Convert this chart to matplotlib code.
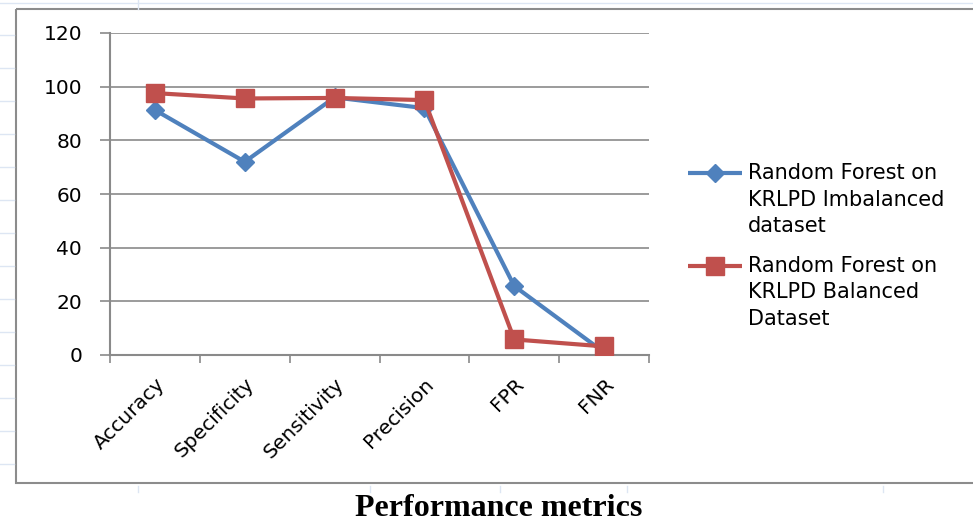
import matplotlib
matplotlib.use("Agg")
import matplotlib.pyplot as plt
from matplotlib.patches import Rectangle

# Data
metrics = ["Accuracy", "Specificity", "Sensitivity", "Precision", "FPR", "FNR"]
imbalanced = [91.3, 72.0, 96.0, 92.0, 25.7, 1.0]
balanced = [97.6, 95.6, 95.8, 95.0, 5.8, 3.2]
imbalanced_label = "Random Forest on\nKRLPD Imbalanced\ndataset"
balanced_label = "Random Forest on\nKRLPD Balanced\nDataset"
y_ticks = [0, 20, 40, 60, 80, 100, 120]

BLUE = "#4F81BD"
RED = "#C0504D"
GRID = "#8a8a8a"
FONT = "DejaVu Sans"

W, H = 973, 527
fig = plt.figure(figsize=(W / 100, H / 100), dpi=100)

# faint spreadsheet cell lines behind the chart, plus the chart frame (pixel coords)
bg = fig.add_axes([0, 0, 1, 1])
bg.set_xlim(0, W)
bg.set_ylim(H, 0)
bg.axis("off")
bg.plot([0, W], [3, 3], color="#dde6f3", lw=1)
for yy in range(35, 480, 33):
    bg.plot([0, 14], [yy, yy], color="#dde6f3", lw=1)
for xx in [138, 370, 500, 627, 883]:
    bg.plot([xx, xx], [486, 492], color="#dde6f3", lw=1)
bg.plot([138, 138], [0, 9], color="#dde6f3", lw=1)
bg.add_patch(Rectangle((16, 9), W, 474, fill=False, edgecolor="#8c8c8c", lw=1.5))
bg.plot([622], [258], marker="o", ms=1.5, color="blue")

ax = fig.add_axes([110 / W, 1 - 355 / H, (649 - 110) / W, (355 - 33) / H])
x = list(range(len(metrics)))
ax.plot(x, imbalanced, color=BLUE, lw=3, marker="D", ms=9, label=imbalanced_label, zorder=3)
ax.plot(x, balanced, color=RED, lw=3, marker="s", ms=13.5, label=balanced_label, zorder=4)

ax.set_xlim(-0.5, len(metrics) - 0.5)
ax.set_ylim(0, 120)
ax.set_yticks(y_ticks)
ax.set_yticklabels([str(v) for v in y_ticks], fontsize=14.5, family=FONT)
ax.set_xticks([i - 0.5 for i in range(len(metrics) + 1)])
ax.set_xticklabels([])
ax.set_xticks(x, minor=True)
ax.set_xticklabels(metrics, minor=True, rotation=45, ha="right", rotation_mode="anchor",
                   fontsize=14.5, family=FONT)
ax.tick_params(axis="x", which="minor", length=0, pad=14)
ax.tick_params(axis="x", which="major", length=6, color=GRID, width=1.2)
ax.tick_params(axis="y", length=7, color=GRID, width=1.2, pad=13)
ax.grid(axis="y", color=GRID, lw=1.2)
ax.set_axisbelow(True)
for s in ["top", "right"]:
    ax.spines[s].set_visible(False)
for s in ["left", "bottom"]:
    ax.spines[s].set_color(GRID)
    ax.spines[s].set_linewidth(1.5)

# legend drawn by hand so the key sits on the first text line, as in the original
for line, top in zip(ax.get_lines(), [173, 266]):
    bg.plot([688, 742], [top, top], color=line.get_color(), lw=3, solid_capstyle="butt")
    bg.plot([715], [top], color=line.get_color(), marker=line.get_marker(),
            ms=line.get_markersize())
    for k, txt in enumerate(line.get_label().split("\n")):
        bg.text(748, top + 26.5 * k, txt, ha="left", va="center", fontsize=15, family=FONT)

fig.text(499 / W, 1 - 509 / H, "Performance metrics", ha="center", va="center",
         fontsize=23, fontweight="bold", family="Liberation Serif")

fig.savefig("out.png", dpi=100)
